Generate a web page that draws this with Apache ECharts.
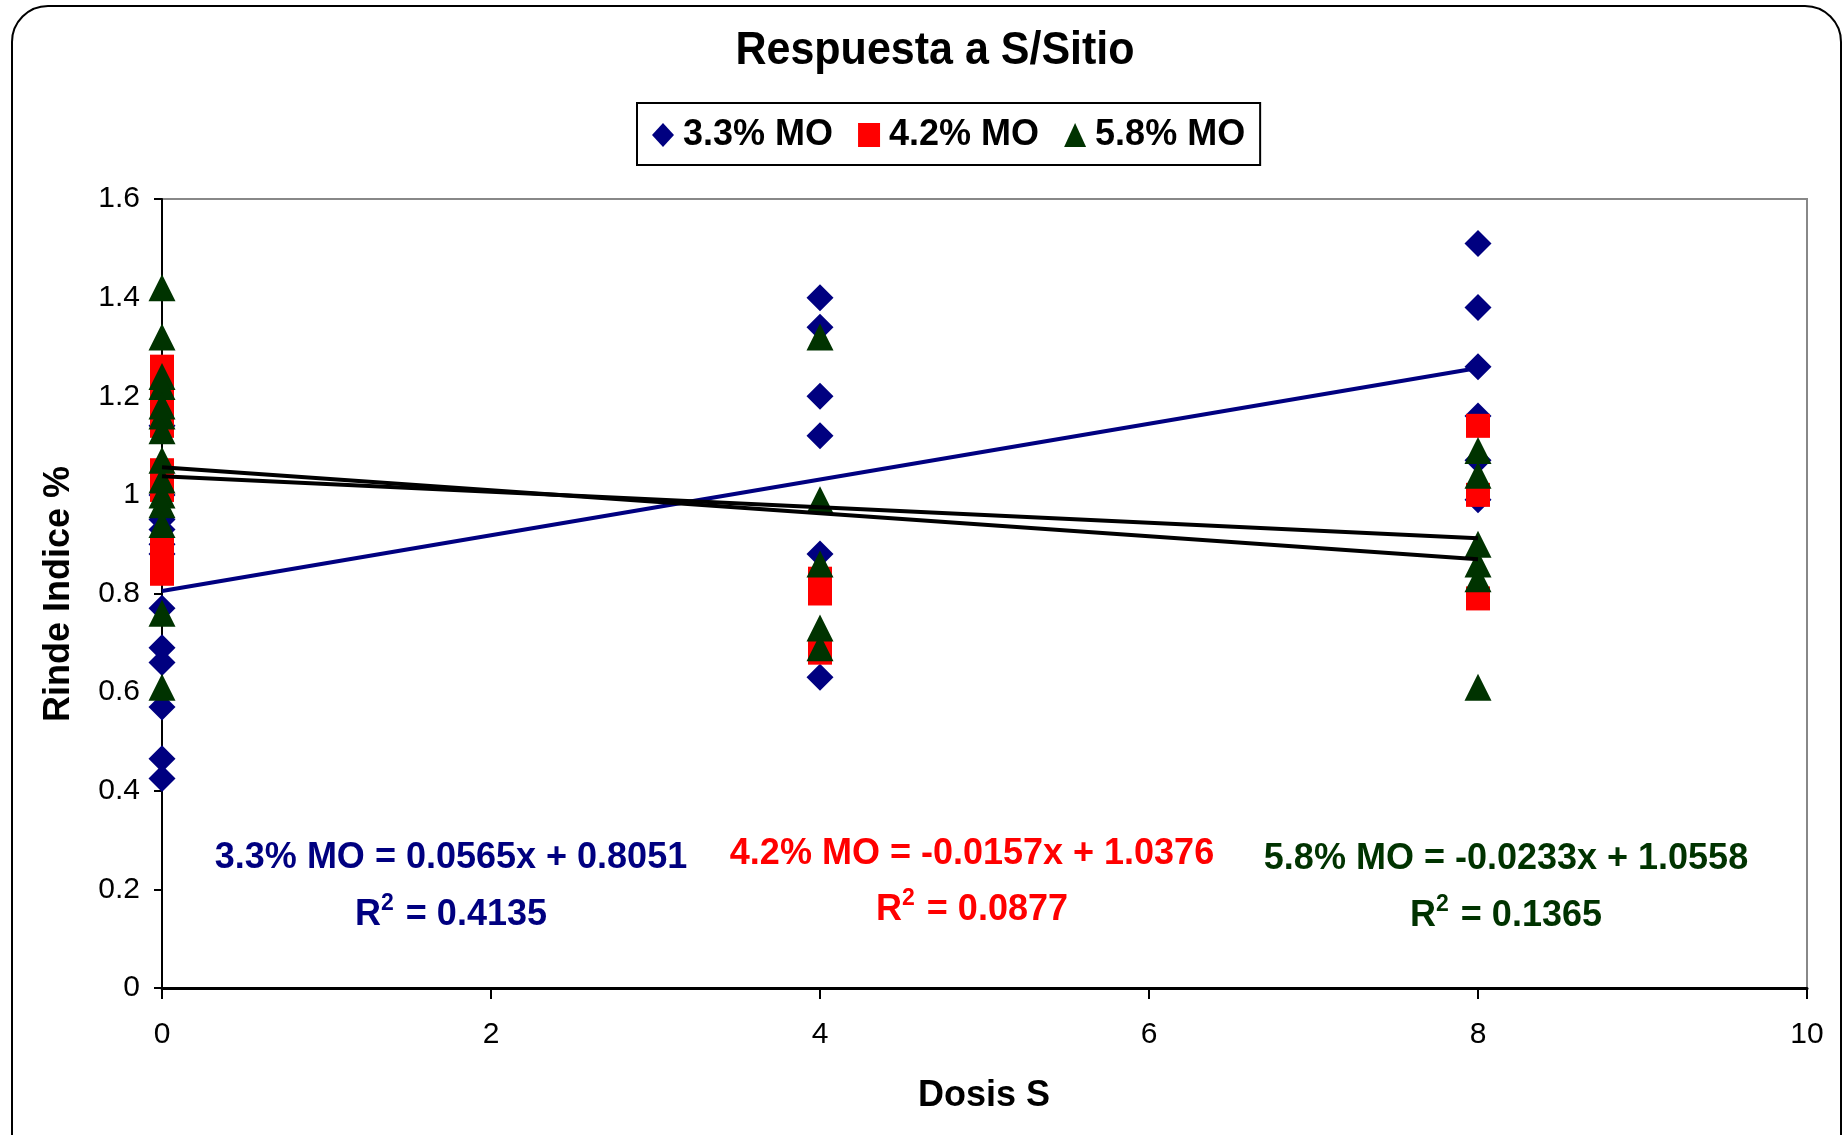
<!DOCTYPE html>
<html>
<head>
<meta charset="utf-8">
<script src="https://cdn.jsdelivr.net/npm/echarts@6/dist/echarts.min.js"></script>
<style>html,body{margin:0;padding:0;background:#fff;}#c{width:1845px;height:1135px;}</style>
</head>
<body>
<div id="c"></div>
<script>
// ---- data ----
const seriesNames = ['3.3% MO', '4.2% MO', '5.8% MO'];
const doses = [0, 4, 8];
// 3.3% MO
const mo33_d0 = [1.14, 1.00, 0.95, 0.93, 0.90, 0.88, 0.77, 0.69, 0.66, 0.57, 0.465, 0.425];
const mo33_d4 = [1.40, 1.34, 1.20, 1.12, 0.88, 0.63];
const mo33_d8 = [1.51, 1.38, 1.26, 1.16, 1.07, 0.99];
// 4.2% MO
const mo42_d0 = [1.26, 1.22, 1.18, 1.14, 1.05, 1.01, 0.89, 0.86, 0.84];
const mo42_d4 = [0.83, 0.80, 0.68];
const mo42_d8 = [1.14, 1.00, 0.79];
// 5.8% MO
const mo58_d0 = [1.42, 1.32, 1.24, 1.22, 1.18, 1.16, 1.13, 1.07, 1.03, 1.00, 0.98, 0.94, 0.76, 0.61];
const mo58_d4 = [1.32, 0.99, 0.86, 0.73, 0.69];
const mo58_d8 = [1.09, 1.04, 0.90, 0.86, 0.83, 0.61];
// trend lines
const slopes = [0.0565, -0.0157, -0.0233];
const intercepts = [0.8051, 1.0376, 1.0558];
const r2 = ['0.4135', '0.0877', '0.1365'];
const slopeTxt = ['0.0565', '-0.0157', '-0.0233'];
const interTxt = ['0.8051', '1.0376', '1.0558'];
const trendRange = [0, 8];

// ---- build ----
function pairs(groups) {
  const out = [];
  groups.forEach((g, i) => g.forEach(v => out.push([doses[i], v])));
  return out;
}
const pts = [
  pairs([mo33_d0, mo33_d4, mo33_d8]),
  pairs([mo42_d0, mo42_d4, mo42_d8]),
  pairs([mo58_d0, mo58_d4, mo58_d8])
];
const colors = ['#000080', '#FF0000', '#003300'];
const symbols = ['diamond', 'rect', 'triangle'];
const sizes = [27, 24, 27];
const lineColors = ['#000080', '#000000', '#000000'];
const FONT = '"Liberation Sans", Arial, sans-serif';

const series = [];
pts.forEach((d, i) => {
  series.push({
    name: seriesNames[i], type: 'scatter', data: d,
    symbol: symbols[i], symbolSize: sizes[i],
    itemStyle: { color: colors[i], opacity: 1 }, z: 3 + i
  });
});
slopes.forEach((m, i) => {
  series.push({
    name: 'trend' + i, type: 'line',
    data: trendRange.map(x => [x, intercepts[i] + m * x]),
    symbol: 'none', lineStyle: { color: lineColors[i], width: 4 },
    z: 10, silent: true
  });
});

const eqPos = [[451, 858, 915], [972, 854, 910], [1506, 859, 916]];
const graphics = [
  { type: 'rect', z: -1, shape: { x: 12, y: 6, width: 1829, height: 1170, r: 36 },
    style: { fill: 'none', stroke: '#000', lineWidth: 2 } },
  { type: 'text', x: 935, y: 51, scaleY: 1.06, style: { text: 'Respuesta a S/Sitio', font: 'bold 43px ' + FONT, fill: '#000', textAlign: 'center', textVerticalAlign: 'middle' } },
  { type: 'text', x: 984, y: 1096, style: { text: 'Dosis S', font: 'bold 36px ' + FONT, fill: '#000', textAlign: 'center', textVerticalAlign: 'middle' } },
  { type: 'text', x: 59, y: 594, rotation: Math.PI / 2, style: { text: 'Rinde Indice %', font: 'bold 36px ' + FONT, fill: '#000', textAlign: 'center', textVerticalAlign: 'middle' } }
];
eqPos.forEach((p, i) => {
  graphics.push({ type: 'text', x: p[0], y: p[1], z: 20, style: {
    text: seriesNames[i] + ' = ' + slopeTxt[i] + 'x + ' + interTxt[i],
    font: 'bold 36px ' + FONT, fill: colors[i], textAlign: 'center', textVerticalAlign: 'middle' } });
  graphics.push({ type: 'text', x: p[0], y: p[2], z: 20, style: {
    text: 'R{s|2} = ' + r2[i],
    rich: { s: { fontSize: 23, fontWeight: 'bold', fontFamily: FONT, fill: colors[i], padding: [0, 2, 22, 0] } },
    font: 'bold 36px ' + FONT, fill: colors[i], textAlign: 'center', textVerticalAlign: 'middle' } });
});

const chart = echarts.init(document.getElementById('c'));
chart.setOption({
  backgroundColor: '#fff',
  animation: false,
  grid: { left: 162, right: 38, top: 199, bottom: 147, show: true, borderColor: '#888', borderWidth: 2, backgroundColor: '#fff' },
  legend: {
    data: seriesNames, left: 637, top: 103, orient: 'horizontal',
    borderColor: '#000', borderWidth: 2, padding: [14, 15, 12, 15], itemGap: 25,
    itemWidth: 22, itemHeight: 24,
    textStyle: { fontSize: 36, fontWeight: 'bold', fontFamily: FONT, color: '#000', padding: [0, 0, 0, 4] },
    backgroundColor: '#fff'
  },
  xAxis: {
    type: 'value', min: 0, max: 10, interval: 2,
    axisLine: { lineStyle: { color: '#000', width: 3 } },
    axisTick: { show: true, length: 11, lineStyle: { color: '#000', width: 2 } },
    axisLabel: { fontSize: 30, fontFamily: FONT, color: '#000', margin: 32 },
    splitLine: { show: false }
  },
  yAxis: {
    type: 'value', min: 0, max: 1.6, interval: 0.2,
    axisLine: { show: true, lineStyle: { color: '#000', width: 2 } },
    axisTick: { show: true, length: 8, lineStyle: { color: '#000', width: 2 } },
    axisLabel: { fontSize: 30, fontFamily: FONT, color: '#000', margin: 22 },
    splitLine: { show: false }
  },
  graphic: graphics,
  series: series
});
</script>
</body>
</html>
